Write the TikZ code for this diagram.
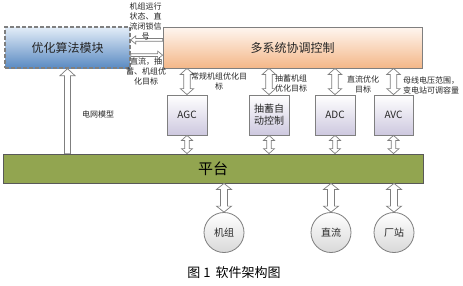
\documentclass[tikz,border=0pt]{standalone}
\usepackage{fontspec}
\setmainfont{Noto Sans CJK SC}
\usetikzlibrary{calc}
\definecolor{optTop}{HTML}{E3EDF8}
\definecolor{optBot}{HTML}{5A8AC2}
\definecolor{mulTop}{HTML}{FEF6F0}
\definecolor{mulBot}{HTML}{F4B788}
\definecolor{boxTop}{HTML}{FFFFFF}
\definecolor{boxBot}{HTML}{CDC8DF}
\definecolor{cirBot}{HTML}{D9D9D9}
\definecolor{platFill}{HTML}{92A550}
\definecolor{lineGray}{HTML}{7F7F7F}
\definecolor{txt}{HTML}{262626}
% vertical double-headed hollow arrow: #1 top, #2 bottom, #3 shaft half width, #4 head half width, #5 head length
\newcommand{\myDVarrow}[5]{%
  \draw[harrow] let \p1=#1, \p2=#2 in
    (\x1,\y1) -- ++(#4pt,-#5pt) -- ++({#3pt-#4pt},0pt) -- (\x1+#3pt,\y2+#5pt)
    -- ++({#4pt-#3pt},0pt) -- (\x1,\y2) -- ++(-#4pt,#5pt) -- ++({#4pt-#3pt},0pt)
    -- (\x1-#3pt,\y1-#5pt) -- ++({#3pt-#4pt},0pt) -- cycle;}
% vertical single hollow arrow, tip at top: #1 tip, #2 tail
\newcommand{\myUParrow}[5]{%
  \draw[harrow] let \p1=#1, \p2=#2 in
    (\x1,\y1) -- ++(#4pt,-#5pt) -- ++({#3pt-#4pt},0pt) -- (\x1+#3pt,\y2)
    -- (\x1-#3pt,\y2) -- (\x1-#3pt,\y1-#5pt) -- ++({#3pt-#4pt},0pt) -- cycle;}
% horizontal hollow arrow, tip to the left: #1 tip, #2 tail
\newcommand{\myLarrow}[5]{%
  \draw[harrow] let \p1=#1, \p2=#2 in
    (\x1,\y1) -- ++(#5pt,#4pt) -- ++(0pt,{#3pt-#4pt}) -- (\x2,\y1+#3pt)
    -- (\x2,\y1-#3pt) -- (\x1+#5pt,\y1-#3pt) -- ++(0pt,{#3pt-#4pt}) -- cycle;}
% horizontal hollow arrow, tip to the right: #1 tip, #2 tail
\newcommand{\myRarrow}[5]{%
  \draw[harrow] let \p1=#1, \p2=#2 in
    (\x1,\y1) -- ++(-#5pt,#4pt) -- ++(0pt,{#3pt-#4pt}) -- (\x2,\y1+#3pt)
    -- (\x2,\y1-#3pt) -- (\x1-#5pt,\y1-#3pt) -- ++(0pt,{#3pt-#4pt}) -- cycle;}
\begin{document}
\begin{tikzpicture}[x=1pt,y=-1pt,
  harrow/.style={draw=lineGray, fill=white, line width=0.7pt, line join=miter},
  smallbox/.style={draw=lineGray, line width=0.8pt, inner sep=0pt, top color=boxTop, bottom color=boxBot,
    minimum width=40pt, minimum height=40pt, font=\fontsize{10}{12}\selectfont, align=center, text=txt},
  bigbox/.style={line width=0.8pt, inner sep=0pt, minimum height=41pt, font=\fontsize{12}{14}\selectfont, text=txt},
  cir/.style={circle, draw=lineGray, line width=0.8pt, inner sep=0pt, minimum size=40pt, top color=white,
    bottom color=cirBot, font=\fontsize{10}{12}\selectfont, text=txt},
  lbl/.style={font=\fontsize{8}{10}\selectfont, align=center, inner sep=0pt, text=txt}]
\useasboundingbox[fill=white] (0,0) rectangle (463,285);

% main blocks
\node[bigbox, draw=lineGray, dash pattern=on 4pt off 2pt, line width=1.3pt, minimum width=125pt,
  top color=optTop, bottom color=optBot] (opt) at (67.5,47.5) {优化算法模块};
\node[bigbox, draw=lineGray, minimum width=259pt, top color=mulTop, bottom color=mulBot] (multi) at (292.5,47.5) {多系统协调控制};

\node[smallbox] (agc) at (187,115) {AGC};
\node[smallbox] (psc) at (269,115) {抽蓄自\\动控制};
\node[smallbox] (adc) at (335,115) {ADC};
\node[smallbox, minimum width=39pt] (avc) at (393.5,115) {AVC};

\node[draw=black!65, line width=0.8pt, fill=platFill, minimum width=420pt, minimum height=29pt, inner sep=0pt,
  font=\fontsize{15}{17}\selectfont, text=black] (plat) at (213,168.5) {平台};

\node[cir] (unit) at (224,232.5) {机组};
\node[cir] (dc) at (331,232.5) {直流};
\node[cir] (st) at (394,232.5) {厂站};

% connectors between optimisation and coordination
\coordinate (la) at ($(opt.north east)!0.32!(opt.south east)$);
\coordinate (ra) at ($(opt.north east)!0.68!(opt.south east)$);
\myLarrow{(la)}{(multi.west |- la)}{1.3}{4}{5}
\myRarrow{(multi.west |- ra)}{(ra)}{1.3}{4}{5}

% grid model arrow
\myUParrow{(opt.south)}{(opt.south |- plat.north)}{3}{7.5}{7}

% coordination to subsystems
\myDVarrow{(agc.north |- multi.south)}{(agc.north)}{3.3}{6.7}{6}
\myDVarrow{(psc.north |- multi.south)}{(psc.north)}{3.3}{6.7}{6}
\myDVarrow{(adc.north |- multi.south)}{(adc.north)}{3.3}{6.7}{6}
\myDVarrow{(avc.north |- multi.south)}{(avc.north)}{3.3}{6.7}{6}

% subsystems to platform
\myDVarrow{(agc.south)}{(agc.south |- plat.north)}{2.2}{5.5}{5}
\myDVarrow{(psc.south)}{(psc.south |- plat.north)}{2.2}{5.5}{5}
\myDVarrow{(adc.south)}{(adc.south |- plat.north)}{2.2}{5.5}{5}
\myDVarrow{(avc.south)}{(avc.south |- plat.north)}{2.2}{5.5}{5}

% platform to field
\myDVarrow{(unit.north |- plat.south)}{(unit.north)}{3.5}{7.5}{6}
\myDVarrow{(dc.north |- plat.south)}{(dc.north)}{3.5}{7.5}{6}
\myDVarrow{(st.north |- plat.south)}{(st.north)}{3.5}{7.5}{6}

% labels
\node[lbl] (l1) at (145.5,21) {机组运行\\状态、直\\流闭锁信\\号};
\node[lbl] (l2) at (146,71.5) {直流，抽\\蓄、机组优\\化目标};
\node[lbl] (l3) at (219,81) {常规机组优化目\\标};
\node[lbl] (l4) at (291,83.5) {抽蓄机组\\优化目标};
\node[lbl] (l5) at (363,84) {直流优化\\目标};
\node[lbl] (l6) at (431,85) {母线电压范围，\\变电站可调容量};
\node[lbl] (l7) at (98,114) {电网模型};

\node[font=\fontsize{13}{15}\selectfont, inner sep=0pt, text=black] (cap) at (234,273) {图 1\, 软件架构图};
\end{tikzpicture}
\end{document}
